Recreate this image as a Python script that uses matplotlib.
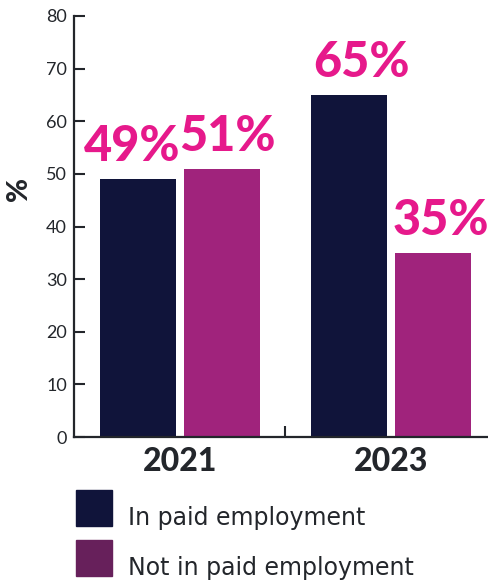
import matplotlib
matplotlib.use("Agg")
import matplotlib.pyplot as plt
import numpy as np
from matplotlib.patches import Rectangle

years = ["2021", "2023"]
series_names = ["In paid employment", "Not in paid employment"]
in_paid = [49, 65]
not_in_paid = [51, 35]
value_labels_in = ["49%", "65%"]
value_labels_not = ["51%", "35%"]
y_ticks = [0, 10, 20, 30, 40, 50, 60, 70, 80]

dark = "#10143A"
magenta = "#A0237C"
legend_purple = "#67205B"
pink = "#E6198B"
text_col = "#23262B"

W, H = 489, 582
fig = plt.figure(figsize=(W / 100, H / 100), dpi=100)
ax = fig.add_axes([74 / W, 145 / H, 1 - 74 / W, (437 - 16) / H])

x = np.arange(len(years))
bw = 0.36
gap = 0.038
offset = bw / 2 + gap / 2
b1 = ax.bar(x - offset, in_paid, bw, color=dark, label=series_names[0])
b2 = ax.bar(x + offset, not_in_paid, bw, color=magenta, label=series_names[1])

lab_font = dict(family="Lato", fontweight="black", fontsize=35, color=pink,
                ha="center", va="baseline")
# small horizontal nudges (points) keep neighbouring labels apart
nudges_in = [-4, 9]
nudges_not = [4, 6]
for bars, labels, nudges in ((b1, value_labels_in, nudges_in),
                             (b2, value_labels_not, nudges_not)):
    for rect, lab, dx in zip(bars, labels, nudges):
        ax.annotate(lab, (rect.get_x() + rect.get_width() / 2, rect.get_height()),
                    xytext=(dx, 13), textcoords="offset points",
                    annotation_clip=False, **lab_font)

ax.set_xlim(-0.502, 1.465)
ax.set_ylim(0, 80)
ax.set_yticks(y_ticks)
ax.set_yticklabels([str(t) for t in y_ticks], fontsize=13, color=text_col,
                   family="Lato")
ax.tick_params(axis="y", direction="in", length=8, width=1.5, color=text_col, pad=5)
ax.set_xticks(x)
ax.set_xticklabels(years, fontsize=23, fontweight="black", color=text_col,
                   family="Lato")
ax.tick_params(axis="x", length=0, pad=7)
ax.set_xticks([0.5], minor=True)
ax.tick_params(axis="x", which="minor", direction="in", length=8, width=1.5,
               color=text_col)

for s in ("top", "right"):
    ax.spines[s].set_visible(False)
for s in ("left", "bottom"):
    ax.spines[s].set_linewidth(1.6)
    ax.spines[s].set_color(text_col)

ax.set_ylabel("%", fontsize=21, fontweight="black", color=text_col,
              family="Lato")
ax.yaxis.set_label_coords(-0.10, 0.59)

# legend drawn in figure pixel coordinates
for i, (name, col) in enumerate(zip(series_names, [dark, legend_purple])):
    top = 490 + i * 50
    fig.add_artist(Rectangle((76 / W, (H - top - 36) / H), 36 / W, 36 / H,
                             transform=fig.transFigure, color=col))
    fig.text(128 / W, (H - (top + 28)) / H, name, fontsize=17,
             color=text_col, family="DejaVu Sans", va="center", ha="left")

fig.savefig("out.png", dpi=100)
